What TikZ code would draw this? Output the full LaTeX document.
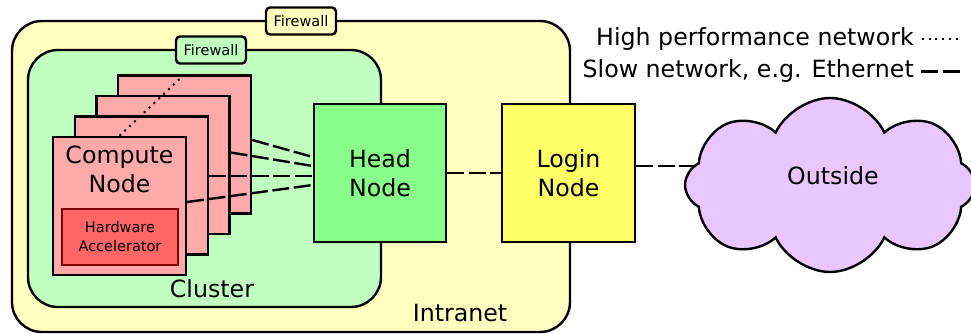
\documentclass[tikz,border=0pt]{standalone}
\usepackage{fontspec}
\setmainfont{DejaVu Sans}
\usepackage{xcolor}
\usetikzlibrary{shapes.symbols}

\definecolor{intranetfill}{HTML}{FFFFC0}
\definecolor{clusterfill}{HTML}{C0FFC0}
\definecolor{computefill}{HTML}{FFAAAA}
\definecolor{accelfill}{HTML}{FF6666}
\definecolor{acceldraw}{HTML}{800000}
\definecolor{headfill}{HTML}{88FF88}
\definecolor{loginfill}{HTML}{FFFF66}
\definecolor{cloudfill}{HTML}{E9C6FF}

\begin{document}
\begin{tikzpicture}[x=1pt, y=-1pt, line width=2.4pt,
  box/.style={draw, rectangle, inner sep=0pt},
  big/.style={font=\fontsize{23.7}{29}\selectfont, align=center},
  small/.style={font=\fontsize{14.5}{19}\selectfont, align=center},
  slow/.style={dash pattern=on 17pt off 4.5pt},
  fast/.style={line width=2pt, dash pattern=on 2pt off 4.7pt}]
  \useasboundingbox (0,0) rectangle (971,334);
  % 内网与防火墙
  \node[box, rounded corners=30pt, fill=intranetfill, minimum width=558pt, minimum height=311pt] (intranet) at (291,176.5) {};
  \node[box, small, rounded corners=4pt, fill=intranetfill, minimum width=70pt, minimum height=27pt] (fwout) at (301,21) {Firewall};
  \node[big] (intranetlabel) at (460,313) {Intranet};
  % 集群
  \node[box, rounded corners=30pt, fill=clusterfill, minimum width=353pt, minimum height=257pt] (cluster) at (204.5,178.5) {};
  \node[box, small, rounded corners=4pt, fill=clusterfill, minimum width=70pt, minimum height=27pt] (fwin) at (211,50) {Firewall};
  \node[big] (clusterlabel) at (212,289) {Cluster};
  % 计算节点（从后往前）
  \foreach \i in {4,3,2,1}
    \node[box, fill=computefill, minimum width=133pt, minimum height=138pt] (cnode\i) at ({119.5+21.7*(\i-1)}, {206-20.5*(\i-1)}) {};
  \node[big] (ctext) at (119.5,169.5) {Compute\\Node};
  \node[box, small, draw=acceldraw, line width=2pt, fill=accelfill, minimum width=116pt, minimum height=56pt] (accel) at (120,237) {Hardware\\Accelerator};
  \draw[fast] (cnode1.north) -- (cnode4.north);
  % 头节点与登录节点
  \node[box, big, fill=headfill, minimum width=132pt, minimum height=138pt] (head) at (380,173) {Head\\Node};
  \node[box, big, fill=loginfill, minimum width=133pt, minimum height=138pt] (login) at (568.5,173) {Login\\Node};
  \foreach \i/\a/\b in {1/4/-12, 2/9.5/-3, 3/12.5/7, 4/4.5/16}
    \draw[slow] ([yshift=\a pt]cnode\i.east) -- ([yshift=\b pt]head.west);
  \draw[slow] (head.east) -- (login.west);
  % 外部网络
  \coordinate (lout) at ([yshift=7pt]login.east);
  \draw[slow] (lout) -- (lout -| 700,0);
  \node[cloud, draw, fill=cloudfill, cloud puffs=8, cloud puff arc=130, aspect=1.7, minimum width=290pt, minimum height=174pt, inner sep=0pt, shape border rotate=10] (cloud) at (830,185) {};
  \node[big] (outside) at (833,176) {Outside};
  % 图例
  \node[big, anchor=base east, inner sep=0pt] (hpn) at (915,46) {High performance network};
  \node[big, anchor=base east, inner sep=0pt] (eth) at (915,78) {Slow network, e.g. Ethernet};
  \draw[fast] ([xshift=7pt]hpn.east) -- ([xshift=46pt]hpn.east);
  \draw[slow] ([xshift=6pt]eth.east) -- ([xshift=45pt]eth.east);
\end{tikzpicture}
\end{document}
